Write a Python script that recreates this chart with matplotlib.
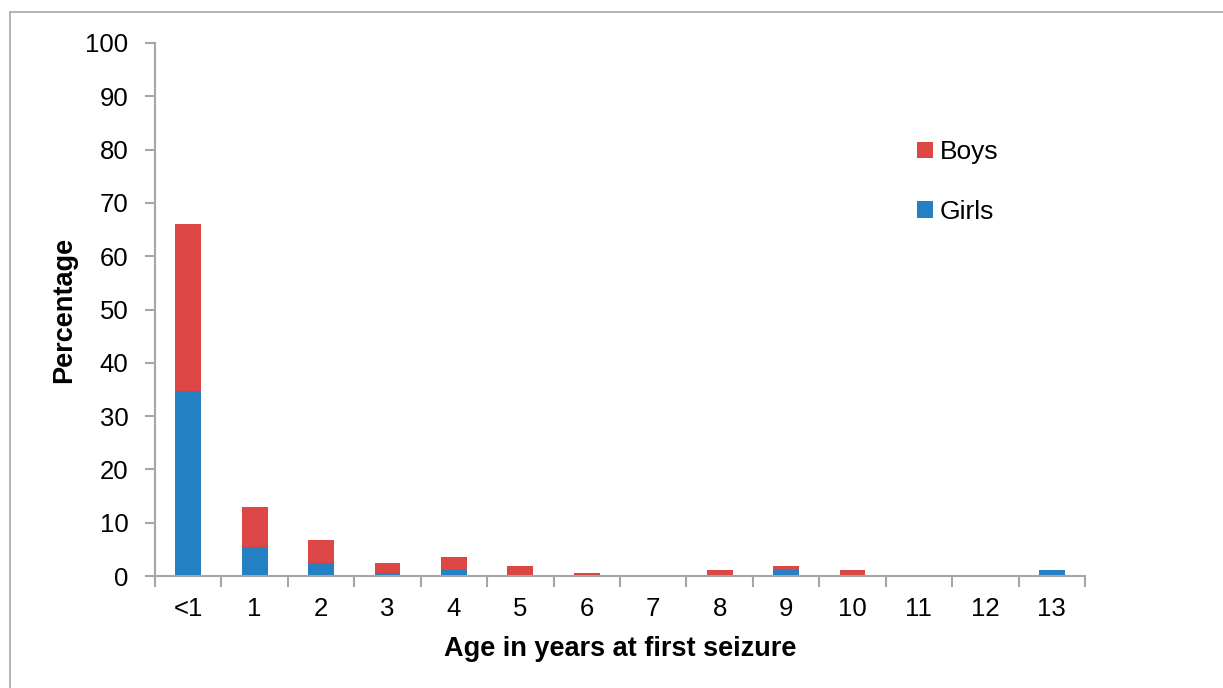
import matplotlib.pyplot as plt
import numpy as np
from matplotlib.patches import Rectangle

plt.rcParams['font.family'] = ['Liberation Sans', 'DejaVu Sans']

ages = ['<1', '1', '2', '3', '4', '5', '6', '7', '8', '9', '10', '11', '12', '13']
girls = [34.7, 5.5, 2.4, 0.6, 1.2, 0, 0, 0, 0, 1.2, 0, 0, 0, 1.2]
boys = [31.3, 7.4, 4.3, 1.8, 2.4, 1.8, 0.6, 0, 1.2, 0.6, 1.2, 0, 0, 0]

red = '#dc4644'
blue = '#2380c3'
grey = '#a6a6a6'

fig = plt.figure(figsize=(12.23, 6.88), dpi=100)
ax = fig.add_axes([155 / 1223, 1 - 576 / 688, 930 / 1223, 533 / 688])

x = np.arange(len(ages))
ax.bar(x, girls, width=0.39, color=blue, label='Girls')
ax.bar(x, boys, width=0.39, bottom=girls, color=red, label='Boys')

ax.set_ylim(0, 100)
ax.set_xlim(-0.5, len(ages) - 0.5)
ax.set_yticks(range(0, 101, 10))
ax.set_xticks(x)
ax.set_xticklabels(ages)
ax.set_xticks(np.arange(-0.5, len(ages), 1), minor=True)
ax.tick_params(axis='x', which='major', length=0, pad=15, labelsize=18.5)
ax.tick_params(axis='x', which='minor', length=8, width=1.5, color=grey)
ax.tick_params(axis='y', length=7, width=1.5, color=grey, labelsize=18.5, pad=12)

for side in ['top', 'right']:
    ax.spines[side].set_visible(False)
for side in ['left', 'bottom']:
    ax.spines[side].set_color(grey)
    ax.spines[side].set_linewidth(1.5)

ax.set_xlabel('Age in years at first seizure', fontsize=19.5, fontweight='bold', labelpad=11)
ax.set_ylabel('Percentage', fontsize=19.5, fontweight='bold', labelpad=6)

handles, labels = ax.get_legend_handles_labels()
ax.legend(handles[::-1], labels[::-1], loc='upper left', bbox_to_anchor=(0.794, 0.862),
          frameon=False, fontsize=19, handlelength=0.6, handleheight=0.6,
          handletextpad=0.25, labelspacing=1.35)

fig.patches.append(Rectangle((10 / 1223, -0.1), 1.2, 1 - 12 / 688 + 0.1,
                             transform=fig.transFigure, fill=False,
                             edgecolor=grey, linewidth=1.2))

fig.savefig('out.png', dpi=100)
